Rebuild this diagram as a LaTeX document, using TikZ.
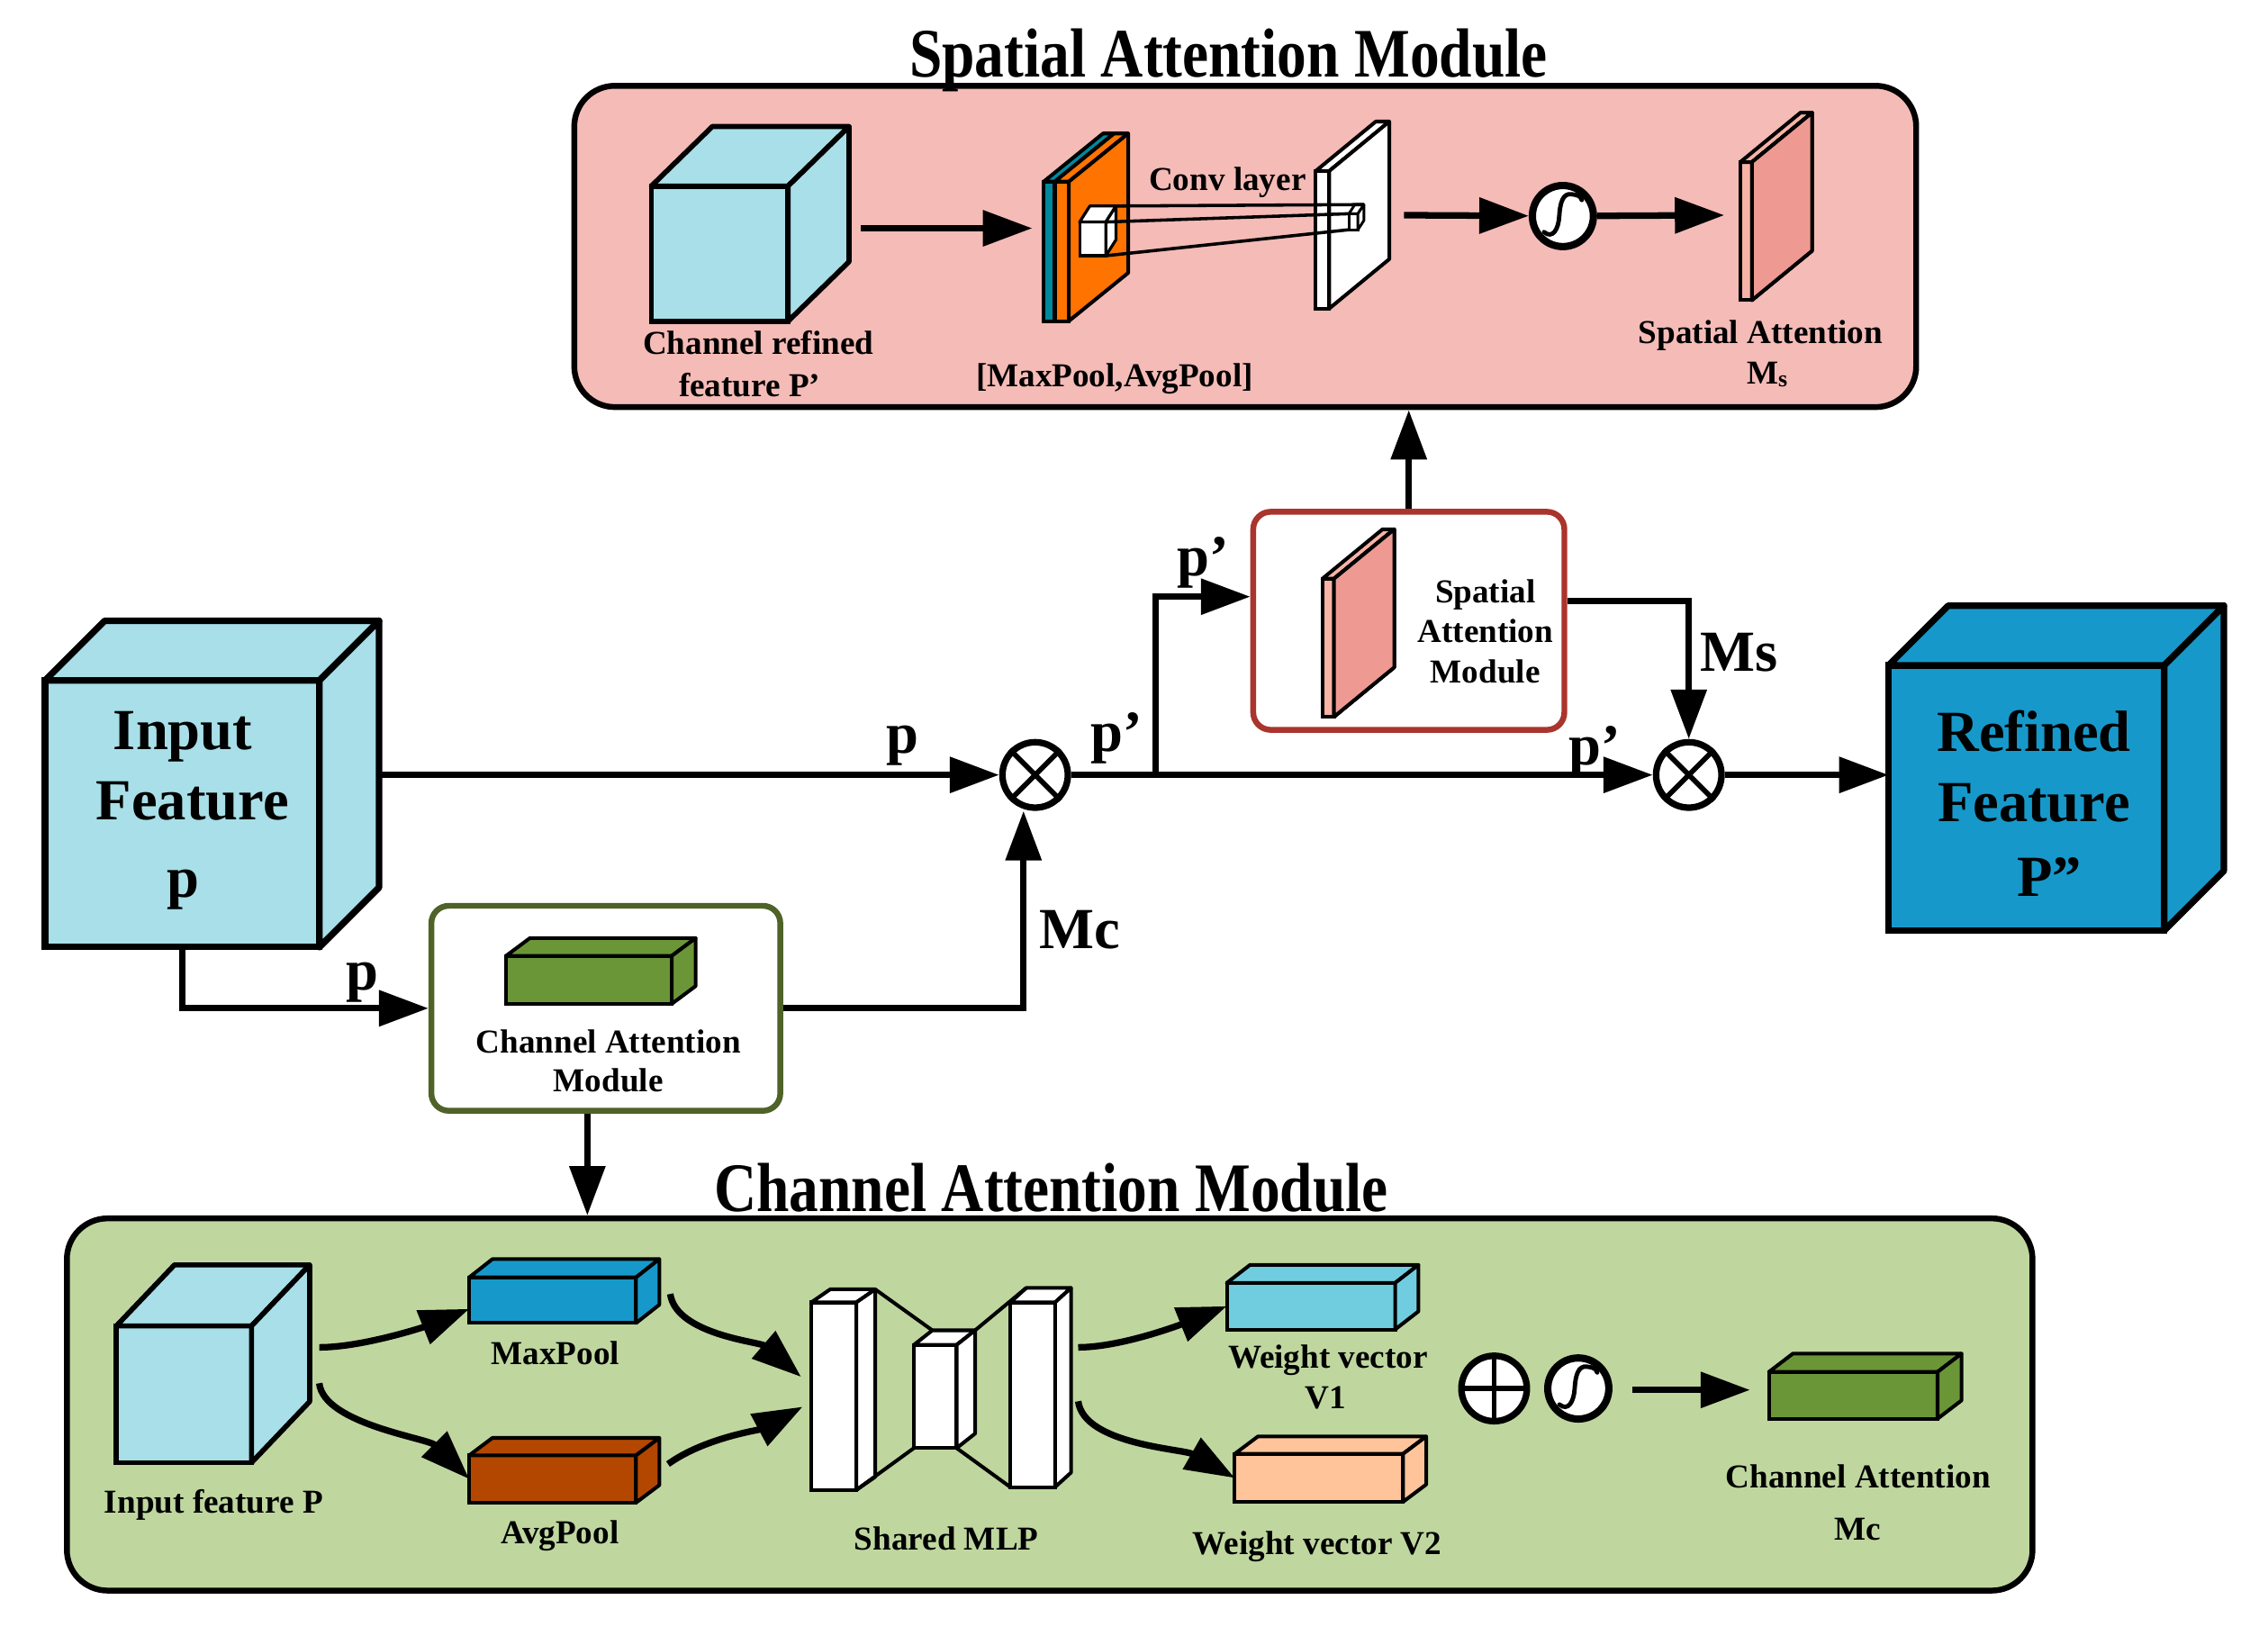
\documentclass[tikz,border=0pt]{standalone}
\usepackage{fontspec}
\setmainfont{Liberation Serif}
\usetikzlibrary{arrows.meta,calc}
\definecolor{cyanL}{HTML}{A8DFE8}
\definecolor{blueR}{HTML}{1699CA}
\definecolor{pinkBg}{HTML}{F4BBB7}
\definecolor{greenBg}{HTML}{BFD79F}
\definecolor{slabOr}{HTML}{FF7300}
\definecolor{slabTeal}{HTML}{00889C}
\definecolor{pinkSide}{HTML}{EE9A93}
\definecolor{pinkFront}{HTML}{F6B3A6}
\definecolor{greenCube}{HTML}{6B9637}
\definecolor{brownC}{HTML}{B34700}
\definecolor{vOne}{HTML}{70CDE0}
\definecolor{vTwo}{HTML}{FFC499}
\definecolor{redB}{HTML}{A9352D}
\definecolor{greenB}{HTML}{4F6228}
% name, x, y (front top-left), w, h, dx, dy (up), fill, line width
\newcommand\cuboid[9]{%
  \node[draw, line width=#9, fill=#8, inner sep=0pt, outer sep=0pt,
        minimum width=#4pt, minimum height=#5pt, anchor=north west] (#1) at (#2,#3) {};
  \draw[line width=#9, line join=round, fill=#8] (#1.north west) -- ++(#6,-#7) -- ++(#4,0) -- (#1.north east) -- cycle;
  \draw[line width=#9, line join=round, fill=#8] (#1.north east) -- ++(#6,-#7) -- ++(0,#5) -- (#1.south east) -- cycle;
}
\newcommand\pinkslab[3]{%
  \cuboid{#1}{#2}{#3}{8}{95}{41.4}{34}{pinkFront}{2.5pt}
  \draw[line width=2.5pt, line join=round, fill=pinkSide] (#1.north east) -- ++(41.4,-34) -- ++(0,95) -- (#1.south east) -- cycle;
}
\newcommand\sigmark[1]{%
  \draw[line width=3pt, line cap=round] ($(#1)+(-13,11)$) .. controls ($(#1)+(-7,16)$) and ($(#1)+(-3,9)$) .. ($(#1)+(-2.5,0)$)
     .. controls ($(#1)+(-2,-9)$) and ($(#1)+(0,-16)$) .. ($(#1)+(6,-15)$)
     .. controls ($(#1)+(10,-14.5)$) and ($(#1)+(12,-14)$) .. ($(#1)+(13,-11)$);
}
\begin{document}
\begin{tikzpicture}[x=1pt,y=-1pt,
  conn/.style={line width=4.5pt, -{Triangle[length=34pt,width=24pt]}},
  thinln/.style={line width=2.5pt, line join=round},
  lab/.style={font=\fontsize{23}{28}\selectfont\bfseries, inner sep=0pt, anchor=base},
  big/.style={font=\fontsize{40}{48}\selectfont\bfseries, inner sep=0pt, anchor=base},
  ttl/.style={font=\fontsize{40.5}{48}\selectfont\bfseries, inner sep=0pt, anchor=base},
  opc/.style={circle, draw, line width=4.5pt, fill=white, minimum size=45pt, inner sep=0pt},
  sigc/.style={circle, draw, line width=5pt, fill=white, minimum size=42pt, inner sep=0pt},
  panel/.style={draw, line width=4pt, rounded corners=28pt, inner sep=0pt},
  module/.style={draw, line width=4pt, rounded corners=12pt, fill=white, inner sep=0pt},
]
\useasboundingbox (0,0) rectangle (1560,1119);
\fill[white] (0,0) rectangle (1560,1119);

% ================= Spatial attention panel
\node[panel, fill=pinkBg, minimum width=923pt, minimum height=221pt] (sbox) at (856.5,169.5) {};
\node[ttl] (t1) at (845,53) {\scalebox{1}[1.18]{Spatial Attention Module}};

\cuboid{crF}{448}{128}{94}{93}{42}{41}{cyanL}{3.5pt}
\node[lab] (crL1) at (521.6,243.5) {Channel refined};
\node[lab] (crL2) at (515.6,272.5) {feature P’};
\coordinate (a1s) at (592,157);
\coordinate (a1e) at (710,157);
\draw[conn] (a1s) -- (a1e);

% [MaxPool,AvgPool] slab
\node[draw, line width=2.5pt, fill=slabTeal, inner sep=0pt, outer sep=0pt, minimum width=17.3pt, minimum height=95.9pt, anchor=north west] (slab) at (717.9,124.9) {};
\draw[thinln, fill=slabOr] (725.5,124.9) rectangle (slab.south east);
\draw[thinln, fill=slabTeal] (slab.north west) -- ++(40.8,-33.1) -- ++(7.6,0) -- (725.5,124.9) -- cycle;
\draw[thinln, fill=slabOr] (725.5,124.9) -- ++(40.8,-33.1) -- ++(9.7,0) -- (slab.north east) -- cycle;
\draw[thinln, fill=slabOr] (slab.north east) -- ++(40.8,-33.1) -- ++(0,95.9) -- (slab.south east) -- cycle;
\node[lab] (mpL) at (766.6,266) {[MaxPool,AvgPool]};

\cuboid{smc}{742.6}{152.7}{18}{23.2}{7}{11}{white}{2pt}
\cuboid{wpl}{905}{117.6}{9.3}{94.6}{41.3}{34}{white}{2.5pt}
\cuboid{tgt}{927.8}{147}{6.2}{11}{4.1}{6.3}{white}{1.8pt}
\draw[line width=2.2pt] ($(smc.north east)+(7,-11)$) -- ($(tgt.north east)+(4.1,-6.3)$);
\draw[line width=2.2pt] (smc.north east) -- (tgt.north west);
\draw[line width=2.2pt] (smc.south east) -- (tgt.south west);
\node[lab] (convL) at (844.3,131) {Conv layer};

\node[sigc] (sig) at (1075,148.6) {};
\sigmark{sig}
\coordinate (a2s) at (965.7,148);
\coordinate (a3e) at (1186,148);
\draw[conn] (a2s) -- (sig);
\draw[conn] (sig) -- (a3e);
\pinkslab{psl}{1197}{111.5}
\node[lab] (saL1) at (1211,236.3) {Spatial Attention};
\node[lab] (saL2) at (1215.5,264) {M\raisebox{-2pt}{\fontsize{16}{16}\selectfont s}};

% ================= middle row
\cuboid{inF}{31}{468}{188.7}{183.4}{41}{41}{cyanL}{4.5pt}
\node[big] at (125.8,515.4) {Input};
\node[big] at (132.4,564) {Feature};
\node[big] at (125.8,617) {p};

\cuboid{refF}{1299}{457.6}{189.6}{182.4}{41}{41}{blueR}{4.5pt}
\node[big] at (1399,517) {Refined};
\node[big] at (1399,565) {Feature};
\node[big] at (1409.6,616.8) {P”};

\node[opc] (ot1) at (712,533) {};
\draw[line width=3.5pt] (ot1.135) -- (ot1.315) (ot1.45) -- (ot1.225);
\node[opc] (ot2) at (1161.6,533) {};
\draw[line width=3.5pt] (ot2.135) -- (ot2.315) (ot2.45) -- (ot2.225);

\node[module, draw=redB, minimum width=214pt, minimum height=150pt] (sam) at (969,427) {};
\pinkslab{psl2}{909.6}{398}
\node[lab] at (1021.7,414.5) {Spatial};
\node[lab] at (1021.7,442) {Attention};
\node[lab] at (1021.7,470) {Module};

\node[module, draw=greenB, minimum width=240pt, minimum height=141pt] (cam) at (416.7,693.5) {};
\cuboid{camC}{348}{657.5}{114}{33}{16.5}{12.3}{greenCube}{2.5pt}
\node[lab] at (418.5,724) {Channel Attention};
\node[lab] at (418.5,751) {Module};

% connectors
\coordinate (inR) at (260.7,533);
\draw[conn] (inR) -- (ot1);
\draw[conn] (ot1) -- (ot2);
\coordinate (br) at (795,533);
\coordinate (samIn) at ($(sam.west)+(0,-16.6)$);
\draw[conn] (br) |- (samIn);
\coordinate (samOut) at ($(sam.east)+(0,-13.6)$);
\draw[conn] (samOut) -| (ot2);
\draw[conn] (ot2) -- (ot2 -| refF.west);
\draw[conn] (sam.north) -- (sam.north |- sbox.south);
\draw[conn] (inF.south) |- (cam.west);
\draw[conn] (cam.east) -| ($(ot1.south)+(-8,0)$);

\node[big] at (621,518) {p};
\node[big] at (768,517) {p’};
\node[big] at (827.5,396) {p’};
\node[big] at (1097,526) {p’};
\node[big] at (1196,461.7) {Ms};
\node[big] at (249,681) {p};
\node[big] at (743,652.6) {Mc};

% ================= Channel attention panel
\node[panel, fill=greenBg, minimum width=1352pt, minimum height=256pt] (cbox) at (722,966) {};
\node[ttl] (t2) at (723,833) {\scalebox{1}[1.18]{Channel Attention Module}};
\coordinate (camDn) at ($(cam.south)+(-12.7,0)$);
\draw[conn] (camDn) -- (camDn |- cbox.north);

\cuboid{ciF}{80}{912}{93}{94}{40}{42}{cyanL}{3.5pt}
\node[lab] at (147,1041) {Input feature P};
\cuboid{maxF}{322.7}{878.6}{114.8}{31.4}{16}{12.6}{blueR}{2.5pt}
\node[lab] at (382,938.5) {MaxPool};
\cuboid{avgF}{322.7}{1001}{114.8}{32.5}{16}{12}{brownC}{2.5pt}
\node[lab] at (385,1062) {AvgPool};

\cuboid{mlpA}{558}{895.8}{31}{129}{13}{9}{white}{2.5pt}
\cuboid{mlpB}{628.6}{925}{29.4}{71}{12.7}{10}{white}{2.5pt}
\cuboid{mlpC}{694.9}{895.8}{30.8}{127}{11}{10}{white}{2.5pt}
\draw[thinln] ($(mlpA.north east)+(13,-9)$) -- ($(mlpB.north west)+(12.7,-10)$);
\draw[thinln] (mlpA.south east) -- (mlpB.south west);
\draw[thinln] ($(mlpB.north east)+(12.7,-10)$) -- ($(mlpC.north west)+(11,-10)$);
\draw[thinln] (mlpB.south east) -- (mlpC.south west);
\node[lab] at (651,1066) {Shared MLP};

\cuboid{v1F}{843.8}{882.4}{115.8}{32}{16}{12.4}{vOne}{2.5pt}
\node[lab] at (913.4,941.2) {Weight vector};
\node[lab] at (912,969) {V1};
\cuboid{v2F}{849.2}{1000}{115.8}{33}{16}{12}{vTwo}{2.5pt}
\node[lab] at (906,1069) {Weight vector V2};

\node[opc] (opl) at (1027.7,955) {};
\draw[line width=3.5pt] ($(opl.north)+(0,3)$) -- ($(opl.south)+(0,-3)$) ($(opl.west)+(3,0)$) -- ($(opl.east)+(-3,0)$);
\node[sigc] (sig2) at (1085.6,955) {};
\sigmark{sig2}
\coordinate (a4s) at (1123,956);
\coordinate (a4e) at (1203.7,956);
\draw[conn] (a4s) -- (a4e);
\cuboid{mcF}{1216.7}{943.6}{116}{32.2}{16.5}{12.6}{greenCube}{2.5pt}
\node[lab] at (1278,1023.6) {Channel Attention};
\node[lab] at (1278,1059) {Mc};

% curved connectors
\coordinate (c1s) at (219.6,926.7);
\coordinate (c2s) at (219.6,951.4);
\coordinate (c3s) at (461,890);
\coordinate (c4s) at (459.5,1007);
\coordinate (c3e) at (551,947);
\coordinate (c4e) at (552,967.6);
\coordinate (c5s) at (741.6,926.7);
\coordinate (c6s) at (741.6,963.8);
\draw[conn] (c1s) .. controls +(30,0) and +(-30,12) .. ($(maxF.west)+(0,6)$);
\draw[conn] (c2s) .. controls +(3,28) and +(-28,-28) .. (avgF.west);
\draw[conn] (c3s) .. controls +(4,28) and +(-28,-24) .. (c3e);
\draw[conn] (c4s) .. controls +(25,-18) and +(-30,16) .. (c4e);
\draw[conn] (c5s) .. controls +(30,0) and +(-30,12) .. (v1F.west);
\draw[conn] (c6s) .. controls +(4,30) and +(-35,-20) .. (v2F.west);
\end{tikzpicture}
\end{document}
